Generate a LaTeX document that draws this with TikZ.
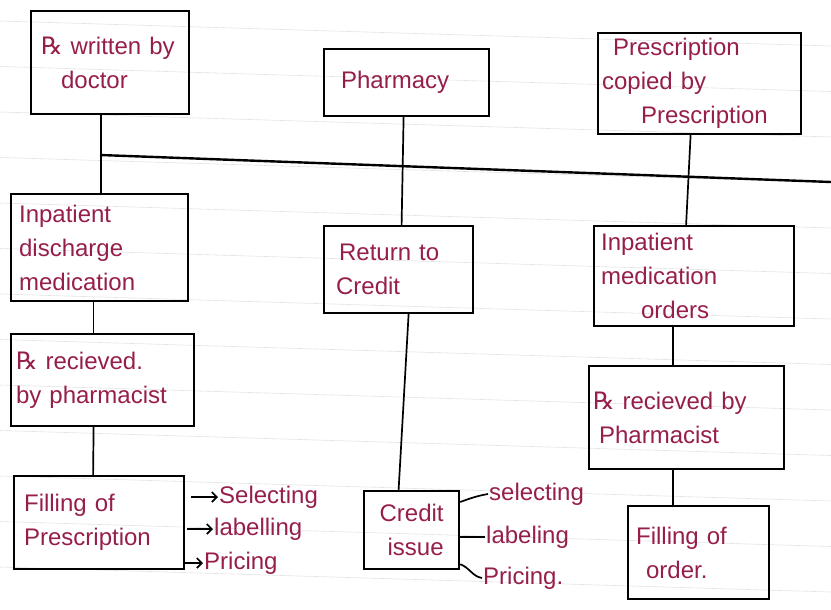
\documentclass[tikz,border=0pt]{standalone}
\usepackage{fontspec}
\setmainfont{Liberation Sans}
\newfontfamily\symfont{DejaVu Sans}
\usetikzlibrary{arrows.meta}

\definecolor{ink}{RGB}{150,30,75}
\newcommand{\rxsign}{{\symfont ℞}}
\newcommand{\handfont}{\fontsize{24}{34}\selectfont}

\tikzset{
  box/.style = {
    draw,
    line width = 2.2pt,
    text = ink,
    font = \handfont,
    anchor = north west,
    inner xsep = 4pt,
    inner ysep = 3pt,
    align = left
  },
  note/.style = {
    text = ink,
    font = \handfont,
    anchor = west,
    inner sep = 1pt
  },
  link/.style  = {line width = 1.7pt},
  ruled/.style = {gray!22, line width = .6pt}
}

\begin{document}
\begin{tikzpicture}[x = 1pt, y = -1pt]
  \useasboundingbox (0,0) rectangle (831,610);

  % The ruled lines of the page
  \foreach \k in {0,...,12}
    \draw[ruled] (0,21+45.5*\k) -- (831,46+45.5*\k);

  % The top row
  \node[box, minimum width = 158, text width = 150, minimum height = 103] (doctor)   at (30,10)  {\hspace*{6pt}\rxsign{} written by\\\hspace*{26pt}doctor};
  \node[box, minimum width = 165, text width = 157, minimum height = 67]  (pharmacy) at (323,48) {\hspace*{13pt}Pharmacy};
  \node[box, minimum width = 203, text width = 195, minimum height = 101] (copied)   at (597,32) {\hspace*{11pt}Prescription\\copied by\\\hspace*{39pt}Prescription};

  % The second row
  \node[box, minimum width = 177, text width = 169, minimum height = 107] (discharge) at (10,193)  {\hspace*{4pt}Inpatient\\\hspace*{4pt}discharge\\\hspace*{4pt}medication};
  \node[box, minimum width = 149, text width = 141, minimum height = 87]  (credit)    at (323,225) {\hspace*{11pt}Return to\\\hspace*{8pt}Credit};
  \node[box, minimum width = 200, text width = 192, minimum height = 100] (orders)    at (593,225) {\hspace*{3pt}Inpatient\\\hspace*{3pt}medication\\\hspace*{43pt}orders};

  % The received boxes
  \node[box, minimum width = 183, text width = 175, minimum height = 92]  (recvA) at (10,333)  {\hspace*{1pt}\rxsign{} recieved.\\\hspace*{1pt}by pharmacist};
  \node[box, minimum width = 195, text width = 187, minimum height = 103] (recvC) at (588,365) {\rxsign{} recieved by\\\hspace*{6pt}Pharmacist};

  % The bottom row
  \node[box, minimum width = 170, text width = 162, minimum height = 93]  (fillA) at (13,475)  {\hspace*{6pt}Filling of\\\hspace*{6pt}Prescription};
  \node[box, minimum width = 95,  text width = 87,  minimum height = 78, align = center] (issue) at (363,490) {Credit\\\hspace*{8pt}issue};
  \node[box, minimum width = 141, text width = 133, minimum height = 93]  (fillC) at (627,505) {\hspace*{4pt}Filling of\\\hspace*{14pt}order.};

  % The side notes
  \node[note] (selA) at (218,497) {Selecting};
  \node[note] (labA) at (213,529) {labelling};
  \node[note] (priA) at (203,563) {Pricing};
  \node[note] (selB) at (488,494) {selecting};
  \node[note] (labB) at (485,537) {labeling};
  \node[note] (priB) at (482,578) {Pricing.};

  % The bus line
  \coordinate (busL) at (100,155);
  \coordinate (busR) at (831,182);
  \draw[link, line width = 2.4pt] (busL) -- (busR);

  % The column lines
  \draw[link] ([xshift=-9pt]doctor.south)     -- ([xshift=1.5pt]discharge.north);
  \draw[link] ([xshift=-6pt]discharge.south)  -- ([xshift=-9pt]recvA.north);
  \draw[link] ([xshift=-9pt]recvA.south)      -- ([xshift=-6pt]fillA.north);
  \draw[link] ([xshift=-3pt]pharmacy.south)   -- ([xshift=3pt]credit.north);
  \draw[link] ([xshift=10pt]credit.south)     -- ([xshift=-13pt]issue.north);
  \draw[link] ([xshift=-9pt]copied.south)     -- ([xshift=-8pt]orders.north);
  \draw[link] ([xshift=-21pt]orders.south)    -- ([xshift=-13.5pt]recvC.north);
  \draw[link] ([xshift=-13.5pt]recvC.south)   -- ([xshift=-25.5pt]fillC.north);

  % The arrows and strokes to the notes
  \draw[link, -{Straight Barb[length=5pt]}] ([xshift=6pt]fillA.east |- selA.west) -- (selA.west);
  \draw[link, -{Straight Barb[length=5pt]}] ([xshift=2pt]fillA.east |- labA.west) -- (labA.west);
  \draw[link, -{Straight Barb[length=5pt]}] (fillA.east |- priA.west) -- (priA.west);
  \draw[link] ([yshift=-12pt]issue.north east) to[out=20, in=190] (selB.west);
  \draw[link] (issue.east |- labB.west) -- (labB.west);
  \draw[link] ([yshift=6pt]issue.south east) to[out=-20, in=170] (priB.west);
\end{tikzpicture}
\end{document}
